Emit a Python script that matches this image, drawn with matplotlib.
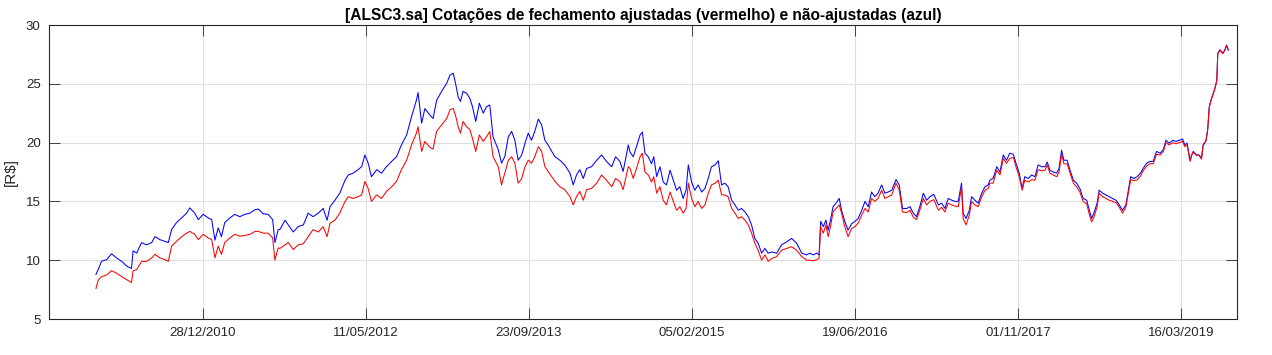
import numpy as np
import pandas as pd
import matplotlib
matplotlib.use("Agg")
import matplotlib.pyplot as plt
import matplotlib.dates as mdates

# ---- data ----
# day offsets relative to 28/12/2010
days = [
    -328, -321, -311, -295, -280, -265, -249, -234, -219, -214, -203, -188, -173, -157, -147, -132, -117, -106, -96, -81,
    -65, -50, -40, -25, -14, 1, 16, 27, 37, 47, 57, 67, 83, 98, 113, 129, 144, 160, 170, 185, 200, 214, 221, 231,
    236, 252, 262, 277, 292, 308, 323, 338, 354, 369, 381, 390, 405, 420, 436, 446, 461, 476, 487, 497,
    507, 517, 533, 548, 563, 579, 594, 609, 625, 640, 655, 660, 671, 681, 696, 706, 717, 732, 748,
    758, 768, 776, 783, 790, 798, 809, 819, 827, 837, 848, 860, 870, 880, 890, 906, 916, 926, 937, 947,
    957, 967, 978, 988, 998, 1008, 1018, 1029, 1039, 1049, 1059, 1070, 1080, 1095, 1110, 1126, 1136, 1146, 1156, 1167,
    1177, 1192, 1208, 1223, 1238, 1254, 1266, 1279, 1289, 1305,
    1310, 1320, 1330, 1341, 1348, 1356, 1366, 1376, 1383, 1392, 1402, 1412, 1422, 1433, 1443, 1453, 1463, 1473, 1482, 1489,
    1499, 1509, 1519, 1530, 1540, 1550, 1560, 1571, 1581, 1591, 1601, 1611, 1622, 1632, 1642, 1652, 1663, 1673, 1683, 1693,
    1703, 1714, 1724, 1734, 1745, 1760, 1775, 1790, 1806, 1821, 1837, 1852,
    1862, 1872, 1883, 1890, 1895, 1903, 1911, 1918, 1925, 1933, 1942, 1952, 1959, 1969, 1979, 1990, 2000, 2010, 2021, 2031,
    2041, 2051, 2061, 2071, 2082, 2092, 2102, 2113, 2126, 2136, 2146, 2159, 2169, 2179, 2189, 2199, 2210, 2220, 2230, 2242,
    2256, 2266, 2276, 2286, 2297, 2307, 2317, 2327, 2332, 2341, 2351, 2358, 2368, 2378, 2389, 2399, 2409,
    2414, 2424, 2435, 2445, 2455, 2465, 2475, 2486, 2494, 2504, 2513, 2521, 2532, 2542, 2552, 2562, 2573, 2583, 2590, 2598,
    2608, 2619, 2626, 2634, 2641, 2651, 2660, 2670, 2680, 2690, 2700, 2711, 2719, 2726, 2733, 2743, 2749, 2760, 2770, 2780,
    2790, 2801, 2811, 2821, 2831, 2838, 2846, 2856, 2866, 2876, 2884, 2895, 2905, 2915, 2925,
    2936, 2946, 2954, 2964, 2975, 2985, 2995, 3005, 3012, 3019, 3028, 3033, 3038, 3048, 3056, 3063, 3068, 3077, 3082, 3087,
    3092, 3099, 3104, 3110, 3113, 3120, 3128, 3135, 3140, 3145,
]

# non-adjusted close (blue)
close_raw = [
    8.78, 9.2, 9.9, 10.05, 10.55, 10.2, 9.9, 9.5, 9.3, 10.8, 10.6, 11.5, 11.3, 11.5, 12.0, 11.75, 11.6, 11.5, 12.6, 13.2,
    13.6, 14.0, 14.45, 14.0, 13.45, 13.9, 13.6, 13.45, 11.7, 12.75, 12.0, 13.2, 13.6, 13.9, 13.7, 13.9, 14.0, 14.3, 14.35, 13.95,
    13.9, 13.45, 11.5, 12.6,
    12.6, 13.4, 13.0, 12.4, 12.85, 13.0, 14.0, 13.7, 14.0, 14.4, 13.4, 14.55, 15.1, 15.7, 16.8, 17.25, 17.4, 17.7, 17.95, 18.95,
    18.25, 17.1, 17.7, 17.4, 17.95, 18.4, 18.8, 19.8, 20.65, 22.2, 23.6, 24.25, 21.65, 22.9, 22.35, 22.05, 23.6, 24.35, 25.05,
    25.75, 25.9, 24.9, 23.9, 23.5, 24.35, 24.2, 23.75, 23.05, 21.8, 23.35, 22.5, 23.05, 23.2, 20.5, 19.4, 18.25, 18.8, 20.5, 20.95,
    20.2, 18.5, 18.95, 19.95, 20.8, 20.2, 20.95, 22.0, 21.5, 20.2, 19.8, 19.25, 18.8, 18.5, 18.1, 17.4, 16.4, 17.25, 17.7, 16.95,
    17.8, 17.95, 18.5, 18.95, 18.4, 17.95, 18.8, 18.4, 17.55, 19.8,
    19.2, 18.8, 19.65, 20.65, 20.9, 19.1, 18.8, 18.2, 18.8, 17.1, 17.95, 16.65, 16.4, 17.65, 16.8, 15.95, 16.25, 15.25, 15.95, 18.1,
    16.65, 15.95, 16.4, 15.8, 16.1, 16.95, 17.95, 18.1, 18.45, 16.4, 16.55, 16.25, 15.1, 14.7, 14.25, 14.4, 14.1, 13.7, 13.0, 11.85,
    11.45, 10.6, 11.0, 10.6, 10.7, 10.6, 11.3, 11.55, 11.85, 11.45, 10.6, 10.45,
    10.6, 10.45, 10.6, 10.45, 13.3, 12.85, 13.4, 12.55, 13.4, 14.55, 14.85, 15.25, 14.25, 13.3, 12.55, 13.1, 13.3, 13.55, 14.25, 15.0,
    14.55, 15.8, 15.4, 15.7, 16.4, 15.7, 15.8, 15.95, 16.85, 16.4, 14.4, 14.4, 14.55, 14.0, 13.7, 14.55, 15.7, 15.1, 15.4, 15.6,
    14.7, 14.85, 14.4, 15.25, 15.1, 15.0, 15.0, 16.55, 14.0, 13.55, 14.25, 15.4, 15.1, 14.85, 15.7, 16.25, 16.4,
    16.8, 16.95, 17.95, 17.5, 18.95, 18.5, 19.1, 19.0, 18.25, 17.4, 16.1, 17.1, 16.95, 17.25, 17.1, 18.1, 17.95, 17.95, 18.35, 17.65,
    17.5, 17.4, 17.8, 19.35, 18.5, 18.5, 17.65, 16.8, 16.55, 16.1, 15.25, 15.1, 14.25, 13.55, 14.0, 14.85, 15.95, 15.7, 15.55, 15.4,
    15.25, 15.1, 14.7, 14.25, 14.7, 15.8, 17.1, 16.95, 17.1, 17.4, 17.8, 18.25, 18.4, 18.4, 19.25,
    19.1, 19.4, 20.2, 19.95, 20.2, 20.1, 20.2, 20.3, 19.8, 19.95, 18.5, 18.95, 19.25, 18.95, 18.95, 18.65, 19.8, 20.2, 21.1, 23.05,
    23.6, 24.2, 24.6, 25.3, 27.6, 27.9, 27.6, 27.9, 28.3, 27.9,
]

# adjusted close (red)
close_adj = [
    7.6, 8.3, 8.6, 8.75, 9.1, 8.9, 8.6, 8.35, 8.1, 9.1, 9.2, 9.9, 9.9, 10.2, 10.5, 10.2, 10.05, 9.9, 11.2, 11.6,
    12.0, 12.3, 12.45, 12.2, 11.75, 12.2, 11.9, 11.75, 10.2, 11.2, 10.5, 11.5, 11.9, 12.2, 12.05, 12.1, 12.2, 12.45, 12.45, 12.3,
    12.3, 11.9, 10.0, 11.05,
    11.0, 11.3, 11.5, 10.9, 11.3, 11.4, 12.0, 12.6, 12.4, 12.85, 12.0, 13.15, 13.4, 14.0, 15.0, 15.4, 15.25, 15.4, 15.55, 16.7,
    16.1, 15.0, 15.55, 15.25, 15.85, 16.25, 16.7, 17.7, 18.5, 19.8, 20.8, 21.35, 19.25, 20.1, 19.6, 19.45, 20.95, 21.5, 22.05,
    22.8, 22.9, 22.2, 21.35, 20.8, 21.8, 21.35, 21.1, 20.35, 19.25, 20.65, 20.1, 20.5, 20.95, 18.8, 17.95, 16.4, 17.4, 18.5, 18.8,
    18.25, 16.55, 16.95, 17.95, 18.5, 18.25, 18.8, 19.65, 19.25, 17.95, 17.55, 17.1, 16.7, 16.25, 16.0, 15.4, 14.7, 15.4, 15.85, 15.1,
    16.0, 16.1, 16.55, 17.25, 16.8, 16.25, 16.95, 16.7, 16.0, 17.95,
    17.8, 16.95, 17.8, 18.8, 19.1, 17.5, 17.25, 16.65, 17.1, 15.7, 16.25, 15.1, 14.7, 15.8, 15.0, 14.25, 14.55, 14.0, 14.4, 16.55,
    15.25, 14.55, 15.0, 14.4, 14.7, 15.7, 16.4, 16.55, 16.8, 15.55, 15.55, 15.4, 14.4, 14.0, 13.55, 13.7, 13.4, 13.0, 12.3, 11.45,
    10.85, 10.0, 10.45, 9.9, 10.15, 10.3, 10.85, 11.0, 11.15, 10.85, 10.3, 10.0,
    10.0, 9.95, 10.05, 10.15, 12.85, 12.3, 13.0, 12.0, 12.85, 14.1, 14.4, 14.7, 14.0, 12.85, 12.0, 12.7, 12.85, 13.15, 13.85, 14.4,
    14.1, 15.25, 15.0, 15.25, 15.95, 15.25, 15.4, 15.55, 16.55, 15.95, 14.1, 14.05, 14.25, 13.65, 13.45, 14.25, 15.25, 14.7, 15.0, 15.15,
    14.25, 14.5, 14.1, 14.85, 14.7, 14.6, 14.55, 16.25, 13.55, 13.0, 13.85, 15.0, 14.7, 14.55, 15.4, 15.95, 16.1,
    16.55, 16.55, 17.65, 17.25, 18.65, 18.25, 18.65, 18.75, 17.95, 17.1, 15.95, 16.8, 16.65, 16.85, 16.8, 17.7, 17.6, 17.65, 18.1, 17.4,
    17.25, 17.1, 17.5, 19.0, 18.2, 18.2, 17.4, 16.55, 16.25, 15.8, 15.0, 14.8, 13.9, 13.25, 13.65, 14.55, 15.7, 15.4, 15.25, 15.1,
    15.0, 14.9, 14.5, 14.0, 14.5, 15.6, 16.85, 16.75, 16.85, 17.15, 17.6, 18.0, 18.2, 18.2, 19.0,
    18.95, 19.25, 20.0, 19.8, 20.0, 19.9, 20.0, 20.1, 19.65, 19.8, 18.4, 18.9, 19.2, 18.9, 18.9, 18.6, 19.75, 20.15, 21.05, 23.0,
    23.55, 24.15, 24.55, 25.25, 27.55, 27.85, 27.55, 27.85, 28.25, 27.85,
]

base_date = "2010-12-28"
tick_labels = ["28/12/2010", "11/05/2012", "23/09/2013", "05/02/2015",
               "19/06/2016", "01/11/2017", "16/03/2019"]
x_limits = ["2009-09-12", "2019-09-04"]
y_ticks = [5, 10, 15, 20, 25, 30]

title = "[ALSC3.sa] Cotações de fechamento ajustadas (vermelho) e não-ajustadas (azul)"

# ---- plot ----
plt.rcParams['font.family'] = ['Liberation Sans', 'DejaVu Sans']
dates = pd.Timestamp(base_date) + pd.to_timedelta(days, unit="D")
tick_dates = pd.to_datetime(tick_labels, format="%d/%m/%Y")

fig = plt.figure(figsize=(12.72, 3.55), dpi=100)
ax = fig.add_axes([49/1272, 1 - 319/355, (1237 - 49)/1272, (319 - 25)/355])

ax.plot(dates, close_raw, color=(0, 0, 1), lw=0.75)
ax.plot(dates, close_adj, color=(1, 0, 0), lw=0.75)

ax.set_xlim(pd.to_datetime(x_limits))
ax.set_ylim(5, 30)
ax.set_yticks(y_ticks)
ax.set_xticks(tick_dates)
ax.set_xticklabels(tick_labels)

ax.grid(True, color="#dfdfdf", lw=0.8)
ax.set_axisbelow(True)
ax.tick_params(direction="in", length=8, width=0.6, top=True, right=True,
               labelsize=9.5, colors="#262626", pad=6)
for s in ax.spines.values():
    s.set_color("#262626")
    s.set_linewidth(0.8)

ax.set_ylabel("[R\\$]", fontsize=11, color="#262626", labelpad=6)
ax.set_title(title, fontsize=11.2, fontweight="bold", color="black", pad=3.6)

fig.savefig("out.png", dpi=100)
